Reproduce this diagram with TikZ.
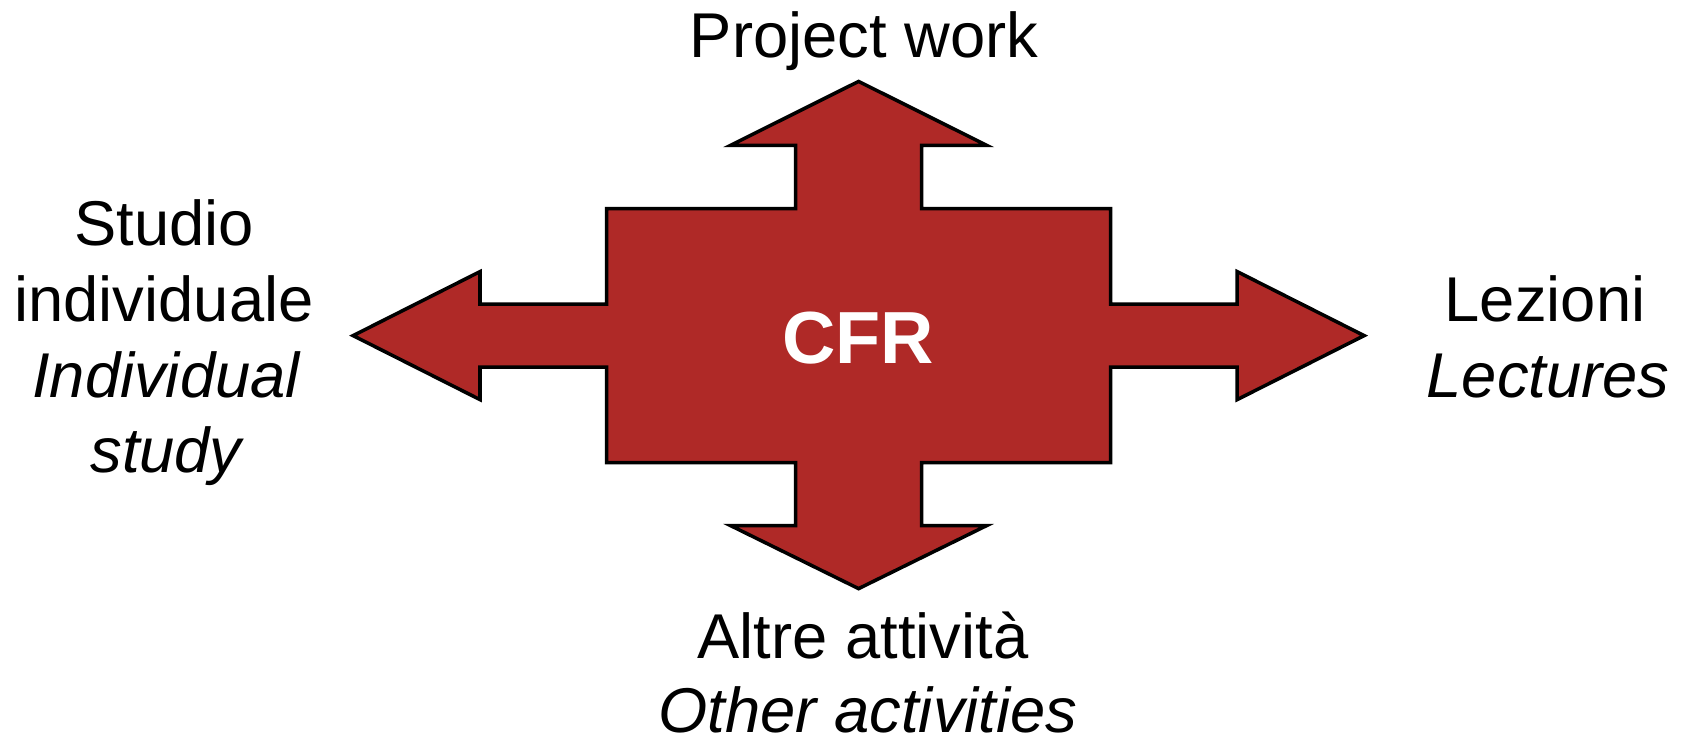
\documentclass[tikz,border=0pt]{standalone}
\usepackage{fontspec}
\setmainfont{Liberation Sans}
\definecolor{cfrred}{RGB}{175,41,39}
\begin{document}
\begin{tikzpicture}[x=0.01cm,y=-0.01cm,
  lbl/.style={inner sep=0pt,anchor=base,font=\fontsize{18}{21}\selectfont},
  ilbl/.style={lbl,font=\fontsize{18}{21}\selectfont\itshape},
  cross/.style={fill=cfrred,draw=black,line width=1pt,line join=miter}]
\useasboundingbox (0,0) rectangle (1688,741);
\draw[cross] (858.6,81.4) -- (986.6,145.3) -- (921.6,145.3) -- (921.6,208.6)
  -- (1110.6,208.6) -- (1110.6,304.1) -- (1237.2,304.1) -- (1237.2,271.6)
  -- (1364.1,335.6) -- (1237.2,399.6) -- (1237.2,367.1) -- (1110.6,367.1)
  -- (1110.6,462.6) -- (921.6,462.6) -- (921.6,525.6) -- (986.6,525.6)
  -- (858.6,588.6) -- (730.6,525.6) -- (795.6,525.6) -- (795.6,462.6)
  -- (606.6,462.6) -- (606.6,367.1) -- (480,367.1) -- (480,399.6)
  -- (353.1,335.6) -- (480,271.6) -- (480,304.1) -- (606.6,304.1)
  -- (606.6,208.6) -- (795.6,208.6) -- (795.6,145.3) -- (730.6,145.3) -- cycle;
\node[lbl,text=white,font=\fontsize{21}{24}\selectfont\bfseries] (cfr) at (858,363) {CFR};
\node[lbl] (top) at (864,57) {Project work};
\node[lbl] (l1) at (164,245) {Studio};
\node[lbl] (l2) at (164,321) {individuale};
\node[ilbl] (l3) at (166,397) {Individual};
\node[ilbl] (l4) at (166,472) {study};
\node[lbl] (r1) at (1545,321) {Lezioni};
\node[ilbl] (r2) at (1548,397) {Lectures};
\node[lbl] (b1) at (863,658) {Altre attività};
\node[ilbl] (b2) at (868,732) {Other activities};
\end{tikzpicture}
\end{document}
